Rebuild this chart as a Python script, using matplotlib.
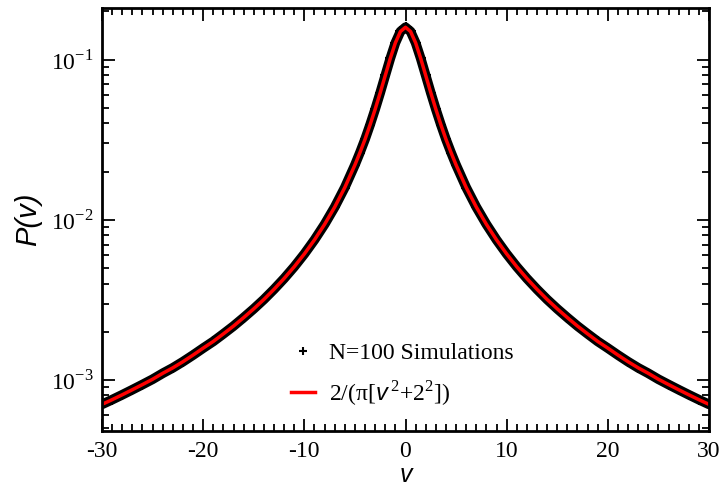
import math
import matplotlib
matplotlib.use("Agg")
import matplotlib.pyplot as plt
from matplotlib import ticker
from matplotlib.lines import Line2D

plt.rcParams['font.family'] = ['Liberation Serif', 'DejaVu Serif']
plt.rcParams['mathtext.fontset'] = 'custom'
plt.rcParams['mathtext.rm'] = 'Liberation Serif'
plt.rcParams['mathtext.it'] = 'Liberation Sans:italic'
plt.rcParams['mathtext.bf'] = 'Liberation Serif:bold'
plt.rcParams['axes.unicode_minus'] = False

# velocity values and P(v)
v_vals = [-30, -29, -28, -27, -26, -25, -24, -23, -22, -21, -20, -19, -18, -17, -16,
          -15, -14, -13, -12, -11, -10, -9, -8, -7, -6, -5,
          -4.5, -4, -3.5, -3, -2.5, -2, -1.5, -1, -0.5, 0,
          0.5, 1, 1.5, 2, 2.5, 3, 3.5, 4, 4.5,
          5, 6, 7, 8, 9, 10, 11, 12, 13, 14, 15, 16, 17, 18, 19, 20,
          21, 22, 23, 24, 25, 26, 27, 28, 29, 30]
p_tail = [0.000704, 0.000753, 0.000808, 0.000869, 0.000936, 0.00101, 0.00110,
          0.00119, 0.00130, 0.00143, 0.00158, 0.00174, 0.00194, 0.00217,
          0.00245, 0.00278, 0.00318, 0.00368, 0.00430, 0.00509, 0.00612,
          0.00749, 0.00936, 0.0120, 0.0159, 0.0220]
p_core = [0.0263, 0.0318, 0.0392, 0.0490, 0.0621, 0.0796, 0.1019, 0.1273, 0.1498]
p_peak = 0.1592
p_sim = p_tail + p_core + [p_peak] + p_core[::-1] + p_tail[::-1]
p_theory = list(p_sim)  # red curve sits on top of the simulation band

fig = plt.figure(figsize=(7.27, 4.86), dpi=100)
ax = fig.add_axes([102 / 727, 55 / 486, 607 / 727, 423 / 486])

ax.plot(v_vals, p_sim, color='black', lw=7, solid_capstyle='round')
ax.plot(v_vals, p_sim, ls='none', marker='+', ms=7, mew=1.5, color='black')
ax.plot(v_vals, p_theory, color='red', lw=2.5)

ax.set_yscale('log')
ax.set_xlim(-30, 30)
ax.set_ylim(4.8e-4, 0.21)

ax.xaxis.set_major_locator(ticker.MultipleLocator(10))
ax.xaxis.set_minor_locator(ticker.MultipleLocator(1))
ax.yaxis.set_major_locator(ticker.LogLocator(base=10))
ax.yaxis.set_minor_locator(ticker.LogLocator(base=10, subs=range(2, 10)))
ax.yaxis.set_major_formatter(ticker.FuncFormatter(
    lambda y, pos: r'10$^{\mathrm{%d}}$' % round(math.log10(y))))
ax.yaxis.set_minor_formatter(ticker.NullFormatter())

ax.tick_params(which='both', direction='in', top=True, right=True, labelsize=17, width=1.3)
ax.tick_params(which='major', length=9)
ax.tick_params(which='minor', length=5)
ax.tick_params(axis='x', pad=7)
ax.tick_params(axis='y', pad=6)
for s in ax.spines.values():
    s.set_linewidth(2)

ax.set_xlabel('v', fontfamily='Liberation Sans', style='italic', fontsize=18, labelpad=1)
ax.set_ylabel('P(v)', fontfamily='Liberation Sans', style='italic', fontsize=21, labelpad=6)

handles = [Line2D([], [], ls='none', marker='+', ms=6, mew=1.5, color='black'),
           Line2D([], [], color='red', lw=2.5)]
labels = ['N=100 Simulations', '2/(π[' + r'$v^{\,2}$' + '+2' + r'$^{2}$' + '])']
ax.legend(handles, labels, loc='lower left', bbox_to_anchor=(0.312, 0.055),
          frameon=False, fontsize=17, handlelength=1.0, handletextpad=0.6,
          labelspacing=0.6, borderaxespad=0, borderpad=0)

fig.savefig('out.png', dpi=100)
